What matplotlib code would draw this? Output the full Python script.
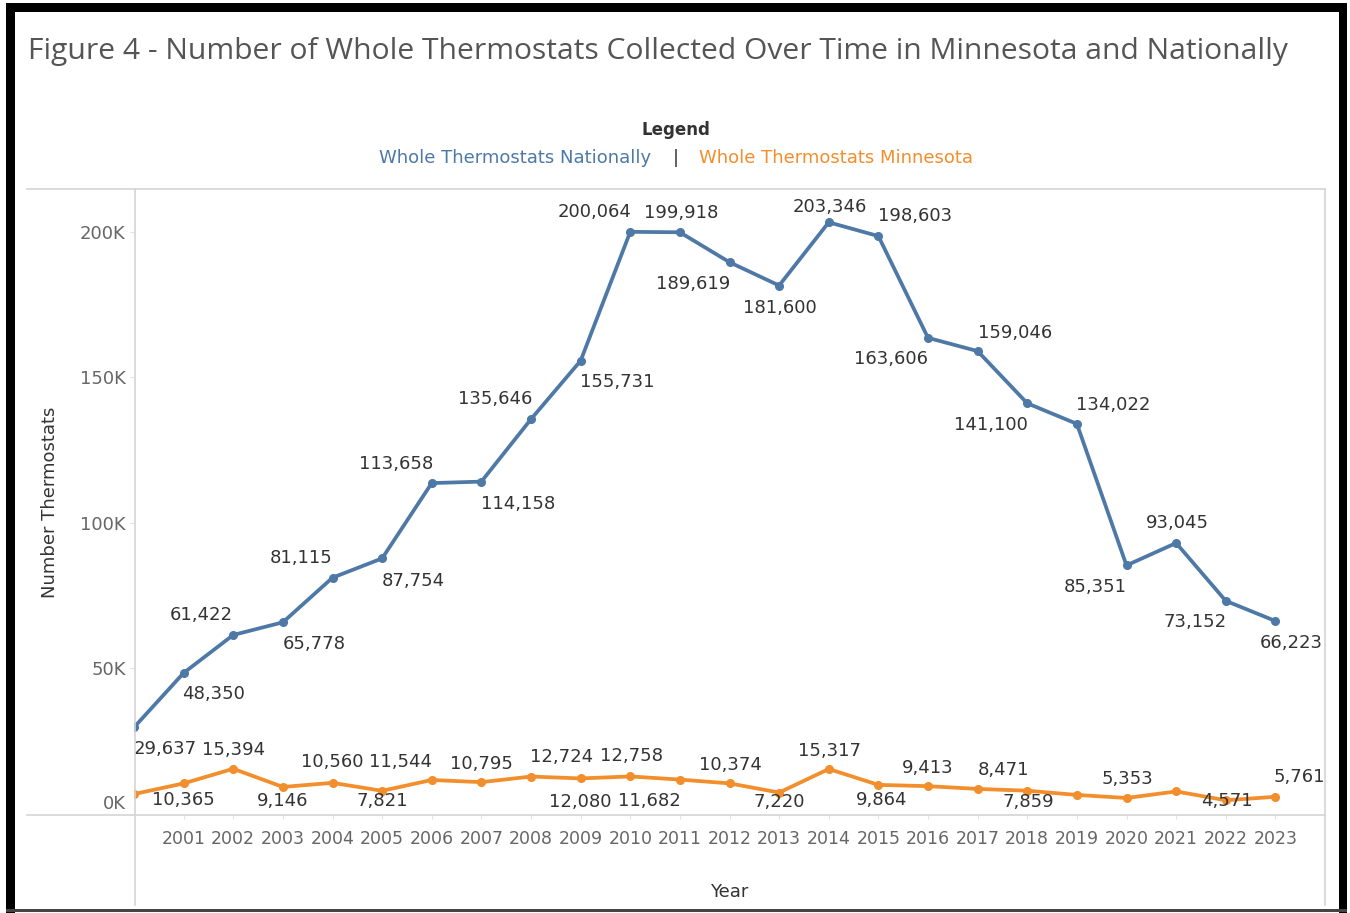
import matplotlib
matplotlib.use("Agg")
import matplotlib.pyplot as plt
from matplotlib.lines import Line2D
from matplotlib.patches import Rectangle
from matplotlib.transforms import ScaledTranslation

years = list(range(2000, 2024))
national = [29637, 48350, 61422, 65778, 81115, 87754, 113658, 114158, 135646, 155731,
            200064, 199918, 189619, 181600, 203346, 198603, 163606, 159046, 141100,
            134022, 85351, 93045, 73152, 66223]
minnesota = [6700, 10365, 15394, 9146, 10560, 7821, 11544, 10795, 12724, 12080,
             12758, 11682, 10374, 7220, 15317, 9864, 9413, 8471, 7859, 6400,
             5353, 7600, 4571, 5761]
# which minnesota points carry a label in the source chart
mn_labelled = [False] + [True] * 18 + [False, True, False, True, True]
ytick_vals = [0, 50000, 100000, 150000, 200000]
ytick_text = ["0K", "50K", "100K", "150K", "200K"]

# label offsets in pixels (dx, dy), dy positive = up
nat_off = [(31, -22), (30, -21), (-32, 20), (31, -22), (-31, 20), (31, -23), (-36, 19),
           (37, -22), (-36, 20), (37, -21), (-36, 20), (1, 19), (-36, -22), (1, -22),
           (1, 15), (37, 20), (-37, -21), (37, 18), (-36, -22), (36, 19), (-31, -22),
           (1, 20), (-31, -21), (16, -22)]
mn_off = [(0, 0), (0, -17), (0, 19), (0, -14), (0, 21), (0, -10), (-31, 18), (0, 18),
          (31, 20), (0, -24), (1, 20), (-31, -21), (1, 18), (0, -9), (1, 18), (3, -15),
          (0, 18), (26, 19), (1, -11), (0, 0), (1, 19), (0, 0), (1, -1), (24, 20)]

BLUE = "#4e79a7"
ORANGE = "#f28e2b"
W, H = 1350, 913

plt.rcParams["font.family"] = ["DejaVu Sans"]
fig = plt.figure(figsize=(W / 100, H / 100), dpi=100)


def fx(px):
    return px / W


def fy(py):
    return 1 - py / H


ax = fig.add_axes([fx(134), fy(815), fx(1325) - fx(134), fy(189) - fy(815)])
ax.plot(years, national, color=BLUE, lw=2.7, marker="o", ms=5.5, solid_joinstyle="round", zorder=3)
ax.plot(years, minnesota, color=ORANGE, lw=2.7, marker="o", ms=5.5, solid_joinstyle="round", zorder=3)
ax.set_xlim(2000, 2024)
ax.set_ylim(-500, 214800)

k = 72 / 100
for yr, v, (dx, dy) in zip(years, national, nat_off):
    ax.annotate(f"{v:,}", (yr, v), xytext=(dx * k, dy * k), textcoords="offset points",
                ha="center", va="center", fontsize=13, color="#333333", annotation_clip=False, zorder=4)
for yr, v, show, (dx, dy) in zip(years, minnesota, mn_labelled, mn_off):
    if show:
        ax.annotate(f"{v:,}", (yr, v), xytext=(dx * k, dy * k), textcoords="offset points",
                    ha="center", va="center", fontsize=13, color="#333333", annotation_clip=False, zorder=4)

for s in ax.spines.values():
    s.set_visible(False)
ax.set_xticks(years[1:])
ax.set_xticklabels([str(y) for y in years[1:]])
ax.set_yticks(ytick_vals)
ax.set_yticklabels(ytick_text)
ax.tick_params(axis="x", length=3, color="#e3e3e3", pad=8, labelsize=12.5, labelcolor="#666666")
ax.tick_params(axis="y", length=3, color="#e3e3e3", pad=3, labelsize=13, labelcolor="#666666")
zero_lbl = ax.get_yticklabels()[0]
zero_lbl.set_transform(zero_lbl.get_transform() + ScaledTranslation(0, 0.12, fig.dpi_scale_trans))

ax.set_xlabel("Year", fontsize=13, color="#333333", labelpad=0)
ax.xaxis.set_label_coords(0.5, -(883 - 815) / (815 - 189))
ax.set_ylabel("Number Thermostats", fontsize=13, color="#333333")
ax.yaxis.set_label_coords(-(134 - 50) / (1325 - 134), (815 - 502) / (815 - 189))
ax.yaxis.label.set_va("center")

# panel rules
grey = "#d4d4d4"
for (x0, y0, x1, y1) in [(27, 189, 1325, 189), (27, 815, 1325, 815),
                         (134.5, 189, 134.5, 905), (1325, 189, 1325, 905)]:
    fig.add_artist(Line2D([fx(x0), fx(x1)], [fy(y0), fy(y1)], color=grey, lw=1.2))

# outer black frame
for (x0, y0, x1, y1, c) in [(6, 3, 1347, 12, "black"), (6, 3, 15, 913, "black"),
                            (1339, 3, 1347, 913, "black"), (6, 909, 1347, 912, "#444444")]:
    fig.add_artist(Rectangle((fx(x0), fy(y1)), fx(x1) - fx(x0), fy(y0) - fy(y1),
                             facecolor=c, edgecolor="none", transform=fig.transFigure))

fig.text(fx(28), fy(51), "Figure 4 - Number of Whole Thermostats Collected Over Time in Minnesota and Nationally",
         fontsize=21.6, color="#555555", ha="left", va="center", family=["Open Sans", "DejaVu Sans"])
fig.text(fx(676), fy(130), "Legend", fontsize=12, fontweight="bold", color="#333333", ha="center", va="center")
fig.text(fx(651), fy(158), "Whole Thermostats Nationally", fontsize=13, color=BLUE, ha="right", va="center")
fig.text(fx(676), fy(158), "|", fontsize=13, color="#333333", ha="center", va="center")
fig.text(fx(699), fy(158), "Whole Thermostats Minnesota", fontsize=13, color=ORANGE, ha="left", va="center")

fig.savefig("out.png", dpi=100, facecolor="white")
